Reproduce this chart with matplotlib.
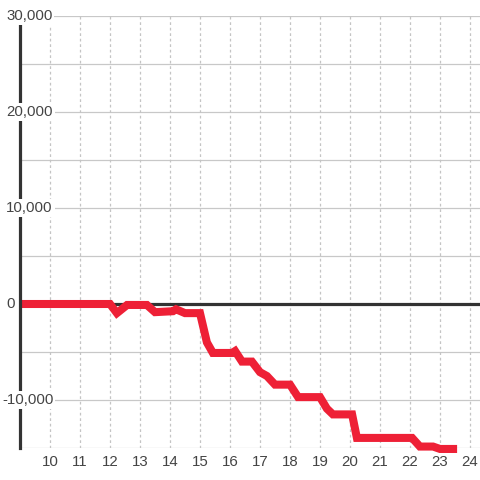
import matplotlib.pyplot as plt
from matplotlib.transforms import blended_transform_factory

# hour of day vs. cumulative value
horas = [9.0, 12.0, 12.23, 12.57, 13.23, 13.5, 14.1, 14.2, 14.5, 15.0, 15.23,
         15.43, 16.07, 16.17, 16.4, 16.73, 17.0, 17.23, 17.5, 18.0, 18.27,
         19.0, 19.23, 19.43, 20.07, 20.23, 22.07, 22.33, 22.77, 23.0, 23.57]
valores = [0, 0, -950, -100, -100, -850, -750, -550, -950, -950, -4000,
           -5100, -5100, -4900, -6000, -6000, -7100, -7500, -8400, -8400, -9700,
           -9700, -10900, -11500, -11500, -13950, -13950, -14850, -14850, -15100, -15100]

xticks = list(range(10, 25))
yticks_grid = list(range(-15000, 30001, 5000))
yticks_label = [-10000, 0, 10000, 20000, 30000]

plt.rcParams['font.family'] = ['Liberation Sans', 'DejaVu Sans']

fig = plt.figure(figsize=(4.8, 4.8), dpi=100)
ax = fig.add_axes([20 / 480, 1 - 448 / 480, 460 / 480, 432 / 480])
ax.set_xlim(9, 9 + 460 / 30)
ax.set_ylim(-15000, 30000)

for y in yticks_grid:
    ax.axhline(y, color='#c8c8c8', lw=0.9, zorder=1)
for x in xticks:
    ax.axvline(x, color='#c4c4c4', lw=0.9, ls=(0, (2.2, 2.2)), zorder=1)

ax.axhline(0, color='#333333', lw=2.3, zorder=2)
ax.plot(horas, valores, color='#ee2036', lw=5.8, zorder=3,
        solid_joinstyle='miter', solid_capstyle='butt', clip_on=False)

for s in ['top', 'right', 'bottom']:
    ax.spines[s].set_visible(False)
ax.spines['left'].set_color('#333333')
ax.spines['left'].set_linewidth(2.3)
ax.spines['left'].set_zorder(4)

ax.set_yticks([])
ax.set_xticks(xticks)
ax.set_xticklabels([str(x) for x in xticks], fontsize=10.8, color='#444444')
ax.tick_params(axis='x', length=0, pad=5)

tr = blended_transform_factory(fig.transFigure, ax.transData)
for y in yticks_label:
    texto = f"{y:,}"
    xpos = 2 / 480 if y < 0 else 6 / 480
    ax.text(xpos, y, texto, transform=tr, ha='left', va='center',
            fontsize=10.8, color='#444444', zorder=10, clip_on=False,
            bbox=dict(facecolor='white', edgecolor='none', pad=1.5))

fig.savefig('out.png', dpi=100)
